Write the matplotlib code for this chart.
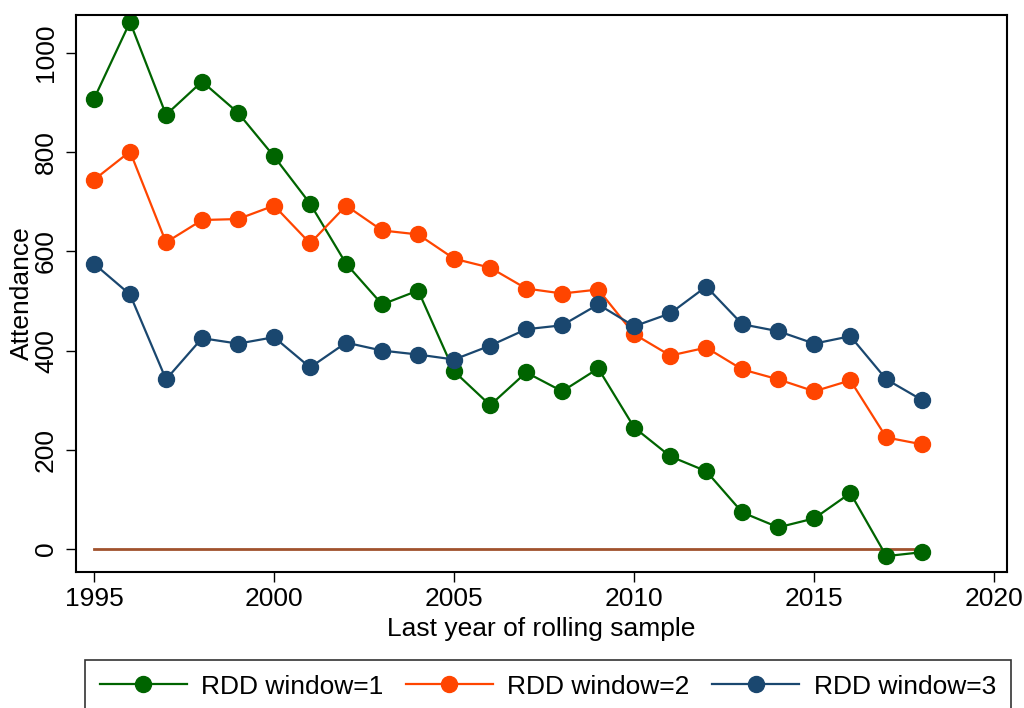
import matplotlib
matplotlib.use("Agg")
import matplotlib.pyplot as plt

plt.rcParams['font.family'] = ['Liberation Sans', 'DejaVu Sans']

years = list(range(1995, 2019))
window1 = [907, 1062, 875, 942, 879, 791, 696, 575, 493, 521, 358, 290,
           356, 318, 364, 245, 187, 157, 74, 44, 62, 113, -14, -6]
window2 = [744, 801, 618, 663, 665, 692, 616, 692, 642, 634, 585, 567,
           525, 515, 523, 433, 390, 406, 362, 342, 318, 340, 225, 211]
window3 = [575, 513, 342, 425, 414, 427, 366, 416, 400, 392, 382, 410,
           443, 451, 493, 449, 475, 529, 453, 439, 414, 429, 342, 300]
zero_line = [0] * len(years)

labels = ['RDD window=1', 'RDD window=2', 'RDD window=3']
colors = ['#006400', '#ff4500', '#1a476f']

fig = plt.figure(figsize=(10.24, 7.08), dpi=100)
ax = fig.add_axes([76 / 1024, 1 - 572 / 708, (1007 - 76) / 1024, (572 - 15) / 708])

handles = []
for vals, lab, col in zip([window1, window2, window3], labels, colors):
    h, = ax.plot(years, vals, '-o', color=col, lw=1.6, ms=11.5, label=lab)
    handles.append(h)
ax.plot(years, zero_line, color='#a0522d', lw=2, zorder=1)

ax.set_xlim(1994.5, 2020.35)
ax.set_ylim(-46, 1076)
ax.set_xticks(range(1995, 2021, 5))
ax.set_yticks(range(0, 1001, 200))
ax.tick_params(labelsize=19, length=7, width=1)
ax.tick_params(axis='x', pad=4)
ax.tick_params(axis='y', pad=6)
for t in ax.get_yticklabels():
    t.set_rotation(90)
    t.set_va('center')
for s in ax.spines.values():
    s.set_linewidth(1.5)
ax.set_xlabel('Last year of rolling sample', fontsize=19, labelpad=4)
ax.set_ylabel('Attendance', fontsize=19, labelpad=0)

leg = fig.legend(handles=handles, loc='upper left', ncol=3,
                 bbox_to_anchor=(85 / 1024, 1 - 660 / 708),
                 fontsize=19, frameon=True, fancybox=False, edgecolor='black',
                 borderpad=0.55, handlelength=3.3, handletextpad=0.55,
                 columnspacing=0.85, borderaxespad=0)
leg.get_frame().set_linewidth(1.2)

fig.savefig('out.png', dpi=100)
